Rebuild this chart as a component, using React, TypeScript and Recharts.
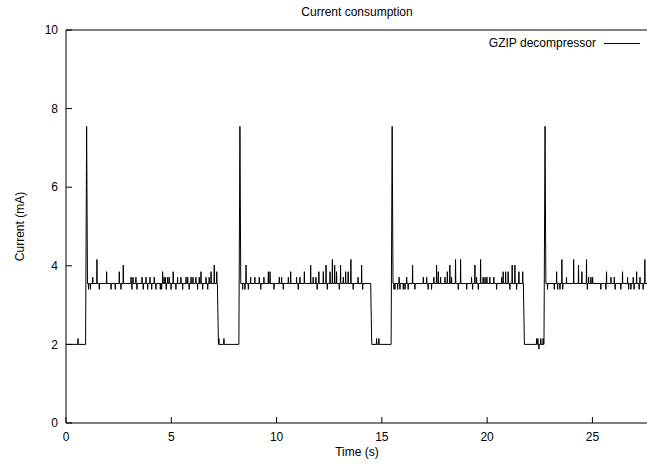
import { LineChart, Line, XAxis, YAxis, Legend } from "recharts"

// levels of the trace (mA)
const LOW = 2.0
const HIGH = 3.55
const PEAK = 7.55

// start of each active phase: rise, peak, settle (s)
const riseTimes = [0.93, 8.21, 15.44, 22.7]
const peakTimes = [0.98, 8.26, 15.49, 22.75]
const settleTimes = [1.02, 8.3, 15.53, 22.79]
// end of each active phase (s)
const dropTimes = [7.19, 14.47, 21.72]
const endTime = 27.64

// short glitches while idle [time, mA]
const idleSpikes = [
    [0.57, 2.15], [7.26, 2.15], [7.5, 2.15], [14.75, 2.15], [14.86, 2.15],
    [22.35, 2.15], [22.41, 2.15], [22.46, 1.88], [22.55, 2.15], [22.66, 2.15],
]

// short glitches while decompressing [time, mA]
const busySpikes = [
    // phase 1
    [1.07, 3.4], [1.16, 3.4], [1.27, 3.71], [1.47, 4.16], [1.58, 3.4], [1.93, 3.85], [2.14, 3.4],
    [2.34, 3.4], [2.53, 3.85], [2.61, 3.4], [2.72, 4.02], [3.09, 3.71], [3.13, 3.4], [3.18, 3.71],
    [3.32, 3.71], [3.37, 3.4], [3.61, 3.71], [3.67, 3.4], [3.8, 3.71], [3.88, 3.4], [3.99, 3.71],
    [4.07, 3.4], [4.19, 3.71], [4.27, 3.4], [4.48, 3.4], [4.54, 3.4], [4.59, 3.85], [4.66, 3.71],
    [4.72, 3.71], [4.76, 3.4], [4.83, 3.71], [4.9, 3.71], [4.99, 3.4], [5.09, 3.85], [5.22, 3.4],
    [5.3, 3.71], [5.46, 3.71], [5.54, 3.4], [5.7, 3.71], [5.78, 3.71], [5.85, 3.4], [5.94, 3.71],
    [6.03, 3.71], [6.17, 3.71], [6.25, 3.4], [6.33, 3.71], [6.41, 3.85], [6.49, 3.4], [6.65, 3.71],
    [6.73, 3.4], [6.8, 3.71], [6.89, 3.85], [7.04, 4.02], [7.16, 3.85],
    // phase 2
    [8.39, 3.4], [8.5, 3.4], [8.55, 4.02], [8.66, 3.4], [8.77, 3.71], [8.97, 3.71], [9.18, 3.71],
    [9.25, 3.4], [9.4, 3.71], [9.61, 3.85], [9.69, 3.85], [9.88, 3.4], [10.13, 3.71], [10.24, 3.71],
    [10.32, 3.4], [10.56, 3.71], [10.67, 3.85], [10.95, 3.71], [11.03, 3.4], [11.11, 3.71],
    [11.32, 3.85], [11.62, 4.02], [11.74, 3.71], [11.87, 3.71], [11.93, 3.4], [12.01, 3.85],
    [12.22, 3.85], [12.35, 4.02], [12.41, 3.4], [12.54, 3.85], [12.65, 4.16], [12.76, 4.02],
    [12.85, 3.85], [12.98, 3.4], [13.04, 4.02], [13.17, 3.71], [13.28, 3.85], [13.4, 3.85],
    [13.53, 4.16], [13.64, 3.4], [13.87, 3.71], [14.04, 4.02], [14.09, 3.4],
    // phase 3
    [15.58, 3.4], [15.62, 3.4], [15.75, 3.4], [15.82, 3.71], [15.86, 3.4], [16.02, 3.4], [16.1, 3.4],
    [16.18, 3.71], [16.25, 3.4], [16.46, 4.02], [16.57, 3.4], [16.97, 3.71], [17.13, 3.71],
    [17.2, 3.4], [17.36, 3.4], [17.47, 3.71], [17.6, 4.02], [17.68, 3.85], [17.79, 3.71], [18.0, 3.71],
    [18.11, 3.85], [18.23, 4.02], [18.31, 3.71], [18.5, 4.16], [18.63, 3.4], [18.74, 4.16],
    [19.03, 3.4], [19.26, 3.71], [19.31, 3.4], [19.42, 4.02], [19.5, 3.71], [19.58, 3.4],
    [19.69, 4.16], [19.81, 3.71], [19.9, 3.71], [19.99, 3.71], [20.13, 3.71], [20.32, 3.71],
    [20.45, 3.4], [20.69, 3.71], [20.76, 3.85], [20.88, 3.85], [21.0, 3.85], [21.08, 3.4],
    [21.19, 4.02], [21.32, 4.02], [21.4, 3.4], [21.51, 3.85], [21.69, 3.85],
    // phase 4
    [22.87, 3.4], [23.19, 3.4], [23.3, 3.85], [23.35, 3.4], [23.46, 3.4], [23.55, 4.16], [23.59, 3.4],
    [23.77, 3.71], [24.11, 4.16], [24.34, 4.02], [24.5, 3.85], [24.72, 4.16], [24.76, 3.4],
    [24.82, 3.71], [24.93, 3.71], [25.01, 3.71], [25.4, 3.4], [25.64, 3.4], [25.67, 3.85],
    [25.88, 3.71], [26.04, 3.71], [26.08, 3.4], [26.35, 3.4], [26.43, 3.85], [26.67, 3.71],
    [26.72, 3.4], [26.83, 3.4], [26.94, 3.71], [26.98, 3.4], [27.1, 3.85], [27.22, 3.4],
    [27.26, 3.71], [27.41, 3.4], [27.49, 4.16],
]

const xTicks = [0, 5, 10, 15, 20, 25]
const yTicks = [0, 2, 4, 6, 8, 10]

function baseAt(t: number) {
    for (let i = 0; i < settleTimes.length; i++) {
        const end = i < dropTimes.length ? dropTimes[i] : Infinity
        if (t >= settleTimes[i] && t <= end) return HIGH
    }
    return LOW
}

function buildTrace() {
    const pts: { t: number; v: number }[] = [{ t: 0, v: LOW }]
    riseTimes.forEach((r, i) => {
        pts.push({ t: r, v: LOW }, { t: peakTimes[i], v: PEAK }, { t: settleTimes[i], v: HIGH })
        if (i < dropTimes.length) pts.push({ t: dropTimes[i], v: HIGH }, { t: dropTimes[i] + 0.05, v: LOW })
    })
    ;[...idleSpikes, ...busySpikes].forEach(([t, v]) => {
        const b = baseAt(t)
        pts.push({ t: t - 0.012, v: b }, { t, v }, { t: t + 0.012, v: b })
    })
    pts.push({ t: endTime, v: HIGH })
    return pts.sort((a, b) => a.t - b.t)
}

const trace = buildTrace()

const font = "'Liberation Sans', Arial, sans-serif"

function renderLegend() {
    return (
        <div style={{ display: "flex", alignItems: "center", fontSize: 12, fontFamily: font, lineHeight: "14px" }}>
            <span>GZIP decompressor</span>
            <span style={{ display: "inline-block", width: 36, height: 0, borderTop: "1px solid #000", marginLeft: 8 }} />
        </div>
    )
}

export default function App() {
    return (
        <div style={{ position: "absolute", left: 0, top: 0, width: 647, height: 465, overflow: "hidden", background: "#fff", fontFamily: font }}>
            <div style={{ position: "absolute", top: 5, left: 66, width: 582, textAlign: "center", fontSize: 12, lineHeight: "14px" }}>
                Current consumption
            </div>
            <LineChart width={652} height={465} data={trace} margin={{ top: 0, right: 4, bottom: 0, left: 0 }}>
                <XAxis
                    xAxisId="top"
                    orientation="top"
                    type="number"
                    dataKey="t"
                    domain={[0, endTime]}
                    ticks={xTicks}
                    height={30}
                    tick={false}
                    tickSize={-6}
                    stroke="#000"
                    allowDataOverflow
                />
                <XAxis
                    type="number"
                    dataKey="t"
                    domain={[0, endTime]}
                    ticks={xTicks}
                    height={42}
                    tickSize={-6}
                    tickMargin={15}
                    tick={{ fill: "#000", fontSize: 12 }}
                    stroke="#000"
                    allowDataOverflow
                    label={{ value: "Time (s)", position: "insideBottom", offset: 9, fill: "#000", fontSize: 12 }}
                />
                <YAxis
                    type="number"
                    domain={[0, 10]}
                    ticks={yTicks}
                    width={66}
                    tickSize={-6}
                    tickMargin={14}
                    tick={{ fill: "#000", fontSize: 12 }}
                    stroke="#000"
                    label={{
                        content: ({ viewBox }: any) => {
                            const cx = 20
                            const cy = viewBox.y + viewBox.height / 2
                            return (
                                <text x={cx} y={cy} transform={`rotate(-90 ${cx} ${cy})`} textAnchor="middle" dominantBaseline="central" fontSize={12} fill="#000">
                                    Current (mA)
                                </text>
                            )
                        },
                    }}
                />
                <Legend
                    layout="vertical"
                    align="center"
                    verticalAlign="middle"
                    content={renderLegend}
                    wrapperStyle={{ top: 36, right: 12, width: "auto", height: "auto" }}
                />
                <Line
                    type="linear"
                    dataKey="v"
                    name="GZIP decompressor"
                    stroke="#000"
                    strokeWidth={1}
                    dot={false}
                    isAnimationActive={false}
                />
            </LineChart>
        </div>
    )
}
